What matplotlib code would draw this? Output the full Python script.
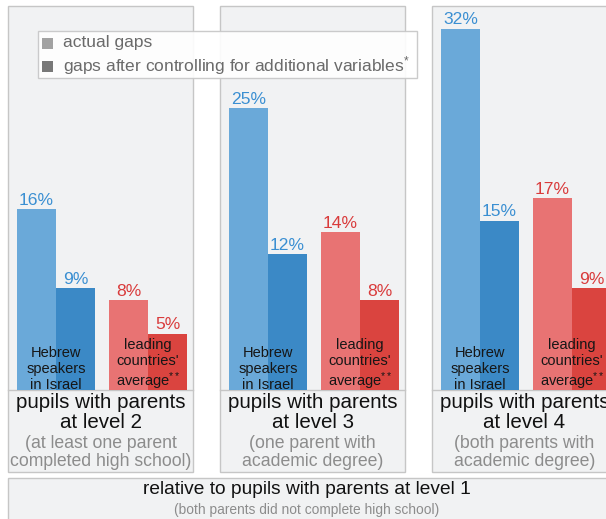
import numpy as np
import matplotlib
matplotlib.use("Agg")
import matplotlib.pyplot as plt
from matplotlib.patches import Rectangle

plt.rcParams['font.family'] = ['Liberation Sans', 'DejaVu Sans']
plt.rcParams['mathtext.fontset'] = 'custom'
plt.rcParams['mathtext.rm'] = 'Liberation Sans'
plt.rcParams['mathtext.it'] = 'Liberation Sans'

# gaps in % relative to pupils whose parents are at level 1
groups = ["Hebrew\nspeakers\nin Israel", "leading\ncountries'\naverage$^{**}$"]
actual_gaps = [[16, 8], [25, 14], [32, 17]]
controlled_gaps = [[9, 5], [12, 8], [15, 9]]
panel_titles = ["at level 2", "at level 3", "at level 4"]
panel_notes = [["(at least one parent", "completed high school)"],
               ["(one parent with", "academic degree)"],
               ["(both parents with", "academic degree)"]]

W, H = 606, 519
fig = plt.figure(figsize=(W / 100, H / 100), dpi=100)
fig.patch.set_facecolor('white')

light = ['#6aa9d9', '#e87373']
dark = ['#3b89c6', '#da443f']
label_col = ['#3a8fd2', '#d93b3b']
panel_bg = '#f1f2f3'
edge = '#c6c6c6'


def fx(x):
    return x / W


def fy(y):
    return 1 - y / H


def box(x0, y0, x1, y1, fc, ec, z=-2, alpha=1.0):
    r = Rectangle((fx(x0), fy(y1)), fx(x1 - x0), (y1 - y0) / H,
                  transform=fig.transFigure, facecolor=fc, edgecolor=ec,
                  lw=1.0, zorder=z, alpha=alpha)
    fig.add_artist(r)


panel_w = 185
top, base, bottom = 6, 390, 472
bw = 39 / 92.0

for i, x0 in enumerate([8, 220, 432]):
    box(x0, top, x0 + panel_w, bottom, panel_bg, edge)
    fig.add_artist(plt.Line2D([fx(x0), fx(x0 + panel_w)], [fy(base), fy(base)],
                              transform=fig.transFigure, color=edge, lw=1.0, zorder=-1))

    ax = fig.add_axes([fx(x0), fy(base), panel_w / W, (base - top) / H])
    ax.set_facecolor('none')
    ax.axis('off')
    ax.set_xlim(-48 / 92.0, (panel_w - 48) / 92.0)
    ax.set_ylim(0, 34)

    xs = np.arange(len(groups))
    for j in range(len(groups)):
        a = actual_gaps[i][j]
        c = controlled_gaps[i][j]
        ax.bar(xs[j] - bw / 2, a, width=bw, color=light[j], lw=0)
        ax.bar(xs[j] + bw / 2, c, width=bw, color=dark[j], lw=0)
        ax.text(xs[j] - bw / 2, a + 0.1, f"{a}%", ha='center', va='bottom',
                fontsize=12.6, color=label_col[j])
        ax.text(xs[j] + bw / 2, c + 0.1, f"{c}%", ha='center', va='bottom',
                fontsize=12.6, color=label_col[j])
        ax.text(xs[j], -0.2, groups[j], ha='center', va='bottom',
                fontsize=10.5, color='#161616', linespacing=1.18, clip_on=False)

    cx = x0 + panel_w / 2
    fig.text(fx(cx), fy(403), "pupils with parents", ha='center', va='center',
             fontsize=14.8, color='#111111')
    fig.text(fx(cx), fy(423), panel_titles[i], ha='center', va='center',
             fontsize=14.8, color='#111111')
    fig.text(fx(cx), fy(443), panel_notes[i][0], ha='center', va='center',
             fontsize=12.7, color='#8c8c8c')
    fig.text(fx(cx), fy(462), panel_notes[i][1], ha='center', va='center',
             fontsize=12.7, color='#8c8c8c')

# bottom reference box
box(8, 478, 620, 530, panel_bg, edge)
fig.text(fx(307), fy(490), "relative to pupils with parents at level 1",
         ha='center', va='center', fontsize=13.8, color='#111111')
fig.text(fx(307), fy(510), "(both parents did not complete high school)",
         ha='center', va='center', fontsize=9.9, color='#8c8c8c')

# legend
box(38, 31, 417, 78, 'white', edge, z=5, alpha=0.9)
box(42, 38, 53, 49, '#a2a2a2', 'none', z=6)
box(42, 61, 53, 72, '#787878', 'none', z=6)
fig.text(fx(63), fy(43), "actual gaps", ha='left', va='center',
         fontsize=12.5, color='#6a6a6a', zorder=7)
fig.text(fx(63), fy(66), "gaps after controlling for additional variables$^{*}$",
         ha='left', va='center', fontsize=12.5, color='#6a6a6a', zorder=7)

fig.savefig("out.png", dpi=100)
